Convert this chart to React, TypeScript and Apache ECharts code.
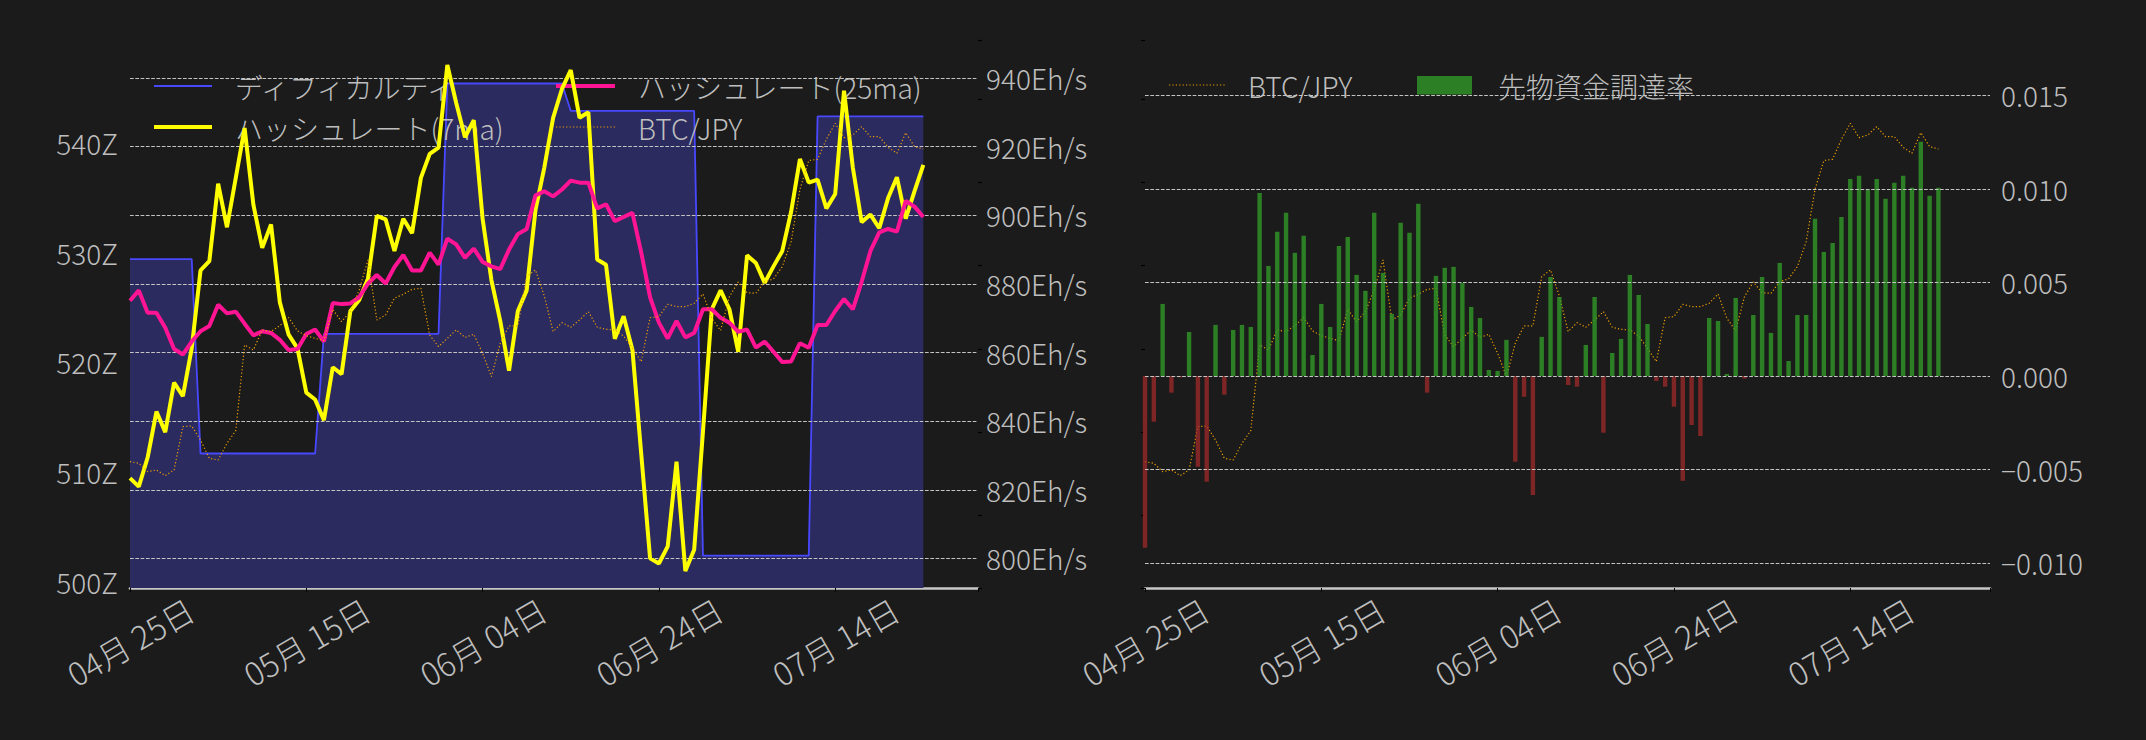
import React, { useEffect, useRef } from "react";
import * as echarts from "echarts";

// ---------- data ----------
const dates = [
  "2025-04-25", "2025-04-26", "2025-04-27", "2025-04-28", "2025-04-29", "2025-04-30",
  "2025-05-01", "2025-05-02", "2025-05-03", "2025-05-04", "2025-05-05", "2025-05-06", "2025-05-07",
  "2025-05-08", "2025-05-09", "2025-05-10", "2025-05-11", "2025-05-12", "2025-05-13", "2025-05-14",
  "2025-05-15", "2025-05-16", "2025-05-17", "2025-05-18", "2025-05-19", "2025-05-20", "2025-05-21",
  "2025-05-22", "2025-05-23", "2025-05-24", "2025-05-25", "2025-05-26", "2025-05-27", "2025-05-28",
  "2025-05-29", "2025-05-30", "2025-05-31",
  "2025-06-01", "2025-06-02", "2025-06-03", "2025-06-04", "2025-06-05", "2025-06-06", "2025-06-07",
  "2025-06-08", "2025-06-09", "2025-06-10", "2025-06-11", "2025-06-12", "2025-06-13", "2025-06-14",
  "2025-06-15", "2025-06-16", "2025-06-17", "2025-06-18", "2025-06-19", "2025-06-20", "2025-06-21",
  "2025-06-22", "2025-06-23", "2025-06-24", "2025-06-25", "2025-06-26", "2025-06-27", "2025-06-28",
  "2025-06-29", "2025-06-30",
  "2025-07-01", "2025-07-02", "2025-07-03", "2025-07-04", "2025-07-05", "2025-07-06", "2025-07-07",
  "2025-07-08", "2025-07-09", "2025-07-10", "2025-07-11", "2025-07-12", "2025-07-13", "2025-07-14",
  "2025-07-15", "2025-07-16", "2025-07-17", "2025-07-18", "2025-07-19", "2025-07-20", "2025-07-21",
  "2025-07-22", "2025-07-23", "2025-07-24",
];

// difficulty in Z (zetta hashes)
const difficultyZ = [
  529.4, 529.4, 529.4, 529.4, 529.4, 529.4, 529.4, 529.4,
  511.7, 511.7, 511.7, 511.7, 511.7, 511.7, 511.7, 511.7, 511.7, 511.7, 511.7, 511.7, 511.7, 511.7,
  522.6, 522.6, 522.6, 522.6, 522.6, 522.6, 522.6, 522.6, 522.6, 522.6, 522.6, 522.6, 522.6, 522.6,
  545.4, 545.4, 545.4, 545.4, 545.4, 545.4, 545.4, 545.4, 545.4, 545.4, 545.4, 545.4, 545.4, 545.4,
  542.9, 542.9, 542.9, 542.9, 542.9, 542.9, 542.9, 542.9, 542.9, 542.9, 542.9, 542.9, 542.9, 542.9, 542.9,
  502.4, 502.4, 502.4, 502.4, 502.4, 502.4, 502.4, 502.4, 502.4, 502.4, 502.4, 502.4, 502.4,
  542.4, 542.4, 542.4, 542.4, 542.4, 542.4, 542.4, 542.4, 542.4, 542.4, 542.4, 542.4, 542.4,
];

// hash rate, 7-day moving average (Eh/s)
const hashrate7ma = [
  823.4, 820.9, 829.4, 842.8, 836.8, 851.2, 847.3, 861.2, 883.9, 886.6,
  909.2, 896.5, 910.9, 925.4, 903.0, 890.5, 897.3, 874.6, 865.2, 861.2,
  848.3, 846.3, 840.3, 855.7, 853.7, 872.1, 875.3, 881.6, 899.8, 898.8,
  889.6, 899.0, 894.8, 910.9, 917.9, 919.7, 943.8, 932.8, 922.7, 927.7,
  899.0, 881.1, 869.2, 854.7, 872.1, 878.1, 901.5, 913.9, 928.4, 936.8,
  942.3, 928.4, 930.0, 887.1, 885.6, 864.0, 870.6, 860.7, 830.3, 800.0,
  798.5, 803.5, 828.2, 796.3, 802.5, 837.0, 872.6, 878.1, 872.6, 860.2,
  888.3, 886.1, 880.3, 885.1, 889.6, 901.0, 916.4, 909.5, 910.4, 902.0,
  906.2, 936.3, 913.9, 898.0, 900.2, 896.2, 905.0, 911.1, 899.0, 907.0,
  914.7,
];

// hash rate, 25-day moving average (Eh/s)
const hashrate25ma = [
  875.1, 878.1, 871.6, 871.6, 867.2, 861.0, 859.4, 863.2, 866.2, 867.7,
  873.9, 871.4, 871.9, 868.4, 865.0, 866.2, 865.7, 863.7, 860.7, 861.0,
  865.4, 866.7, 863.2, 874.4, 874.1, 874.3, 876.1, 880.1, 882.6, 880.1,
  884.9, 888.4, 883.9, 883.9, 889.1, 885.6, 893.2, 891.5, 887.6, 890.3,
  886.4, 885.1, 884.3, 890.0, 894.5, 896.0, 905.8, 907.0, 905.5, 907.5,
  910.1, 909.5, 909.5, 902.0, 903.2, 898.3, 899.5, 900.7, 889.1, 876.1,
  868.7, 864.1, 869.2, 864.4, 865.7, 872.6, 872.6, 870.1, 868.7, 866.0,
  866.7, 861.4, 863.2, 860.2, 857.2, 857.4, 862.7, 861.4, 868.0, 868.0,
  872.1, 875.6, 872.6, 880.6, 889.6, 895.0, 896.0, 895.2, 904.2, 902.5,
  899.5,
];

// BTC/JPY close (yen)
const btcJpy = [
  13645000, 13625000, 13525000, 13545000, 13477000, 13545000, 14066000, 14074000, 13905000, 13685000,
  13665000, 13865000, 14018000, 15047000, 14987000, 15228000, 15208000, 15280000, 15376000, 15216000,
  15159000, 15127000, 15099000, 15476000, 15328000, 15448000, 15708000, 16069000, 15348000, 15408000,
  15610000, 15656000, 15716000, 15728000, 15167000, 15027000, 15127000, 15228000, 15139000, 15175000,
  14947000, 14667000, 15067000, 15276000, 15276000, 15869000, 15949000, 15636000, 15208000, 15316000,
  15260000, 15348000, 15448000, 15260000, 15236000, 15228000, 15155000, 15007000, 14847000, 15376000,
  15388000, 15536000, 15508000, 15508000, 15548000, 15660000, 15368000, 15220000, 15628000, 15804000,
  15676000, 15668000, 15808000, 15841000, 15989000, 16289000, 16918000, 17263000, 17279000, 17519000,
  17712000, 17539000, 17571000, 17671000, 17551000, 17551000, 17423000, 17351000, 17599000, 17431000,
  17403000,
];

// futures funding rate (daily)
const fundingRate = [
  -0.00918, -0.00244, 0.00385, -0.00089, -0.00007, 0.00235, -0.00485, -0.00565, 0.00273, -0.00100,
  0.00246, 0.00273, 0.00262, 0.00977, 0.00588, 0.00770, 0.00872, 0.00658, 0.00749, 0.00112,
  0.00385, 0.00262, 0.00695, 0.00743, 0.00540, 0.00455, 0.00872, 0.00551, 0.00332, 0.00818,
  0.00765, 0.00920, -0.00089, 0.00535, 0.00578, 0.00583, 0.00497, 0.00369, 0.00310, 0.00032,
  0.00027, 0.00193, -0.00458, -0.00111, -0.00636, 0.00209, 0.00529, 0.00422, -0.00048, -0.00057,
  0.00166, 0.00422, -0.00303, 0.00123, 0.00198, 0.00540, 0.00433, 0.00278, -0.00027, -0.00057,
  -0.00164, -0.00560, -0.00262, -0.00321, 0.00310, 0.00294, 0.00011, 0.00417, -0.00014, 0.00326,
  0.00529, 0.00230, 0.00604, 0.00080, 0.00326, 0.00326, 0.00840, 0.00663, 0.00711, 0.00850,
  0.01053, 0.01070, 0.00995, 0.01053, 0.00947, 0.01032, 0.01070, 0.01005, 0.01251, 0.00963,
  0.01005,
];

// ---------- style ----------
const FONT = "'Noto Sans CJK JP', 'Noto Sans', sans-serif";
const BG = "#1b1b1b";
const TEXT = "#bebebe";
const GRID_C = "#c4c4c4";
const BLUE = "#4848ff";
const FILL = "#2b2b60";
const YELLOW = "#ffff00";
const PINK = "#ff1493";
const ORANGE = "#f0a000";
const GREEN = "rgba(50,150,40,0.82)";
const RED = "rgba(165,42,42,0.72)";
const FS = 28;
const FS_DATE = 32;
const FW = 300;
const DOT = [1.2, 2.2];

const isMult = (v: number, s: number) => Math.abs(v / s - Math.round(v / s)) < 1e-6;

const dateLabel = (v: number) => {
  if (!Number.isInteger(v) || !dates[v]) return "";
  const [, m, d] = dates[v].split("-");
  return `${m}月 ${d}日`;
};

const pts = (arr: number[]) => arr.map((v, i) => [i, v]);

function xAxis(gridIndex: number, max: number) {
  return {
    type: "value",
    gridIndex,
    min: 0,
    max,
    interval: 20,
    axisLine: { show: true, onZero: false, lineStyle: { color: "#c8c8c8", width: 2.7 } },
    axisTick: { show: true, length: 4, lineStyle: { color: "#000", width: 1 } },
    axisLabel: {
      rotate: 30,
      align: "center",
      verticalAlign: "middle",
      margin: 53,
      fontSize: FS_DATE,
      fontWeight: FW,
      fontFamily: FONT,
      color: TEXT,
      formatter: dateLabel,
    },
    splitLine: { show: false },
  };
}

const labelBase = { fontSize: FS, fontWeight: FW, color: TEXT, fontFamily: FONT };

function buildOption() {
  return {
    animation: false,
    backgroundColor: BG,
    textStyle: { fontFamily: FONT, fontWeight: FW },
    grid: [
      { left: 130, top: 40, width: 848, height: 548 },
      { left: 1145, top: 40, width: 845, height: 548 },
    ],
    xAxis: [xAxis(0, 96.2), xAxis(1, 95.85)],
    yAxis: [
      {
        // difficulty (left)
        type: "value",
        gridIndex: 0,
        position: "left",
        min: 499.45,
        max: 549.36,
        minInterval: 10,
        maxInterval: 10,
        axisLine: { show: false },
        axisTick: { show: false },
        splitLine: { show: false },
        axisLabel: {
          ...labelBase,
          margin: 12,
          formatter: (v: number) => (isMult(v, 10) ? `${Math.round(v)}Z` : ""),
        },
      },
      {
        // hash rate (right)
        type: "value",
        gridIndex: 0,
        position: "right",
        min: 791.37,
        max: 951.07,
        minInterval: 20,
        maxInterval: 20,
        z: 3,
        axisLine: { show: false },
        axisTick: { show: false },
        splitLine: {
          show: true,
          showMinLine: false,
          showMaxLine: false,
          lineStyle: { color: GRID_C, width: 1, type: [3.7, 1.6] },
        },
        axisLabel: {
          ...labelBase,
          margin: 8,
          formatter: (v: number) => (isMult(v, 20) ? `${Math.round(v)}Eh/s` : ""),
        },
      },
      {
        // BTC/JPY (left chart, hidden labels)
        type: "value",
        gridIndex: 0,
        position: "right",
        min: 12126200,
        max: 18712700,
        minInterval: 1000000,
        maxInterval: 1000000,
        axisLine: { show: false },
        axisTick: { show: true, length: 4, lineStyle: { color: "#000", width: 1.2 } },
        axisLabel: { show: false },
        splitLine: { show: false },
      },
      {
        // funding rate (right chart, right side)
        type: "value",
        gridIndex: 1,
        position: "right",
        min: -0.011325,
        max: 0.017949,
        minInterval: 0.005,
        maxInterval: 0.005,
        z: 3,
        axisLine: { show: false },
        axisTick: { show: false },
        splitLine: {
          show: true,
          showMinLine: false,
          showMaxLine: false,
          lineStyle: { color: GRID_C, width: 1, type: [3.7, 1.6] },
        },
        axisLabel: {
          ...labelBase,
          margin: 11,
          formatter: (v: number) => {
            if (!isMult(v, 0.005)) return "";
            const r = Math.round(v / 0.005) * 0.005;
            if (Math.abs(r) < 1e-9) return "0.000";
            return r < 0 ? "\u2212" + Math.abs(r).toFixed(3) : r.toFixed(3);
          },
        },
      },
      {
        // BTC/JPY (right chart, left side, hidden labels)
        type: "value",
        gridIndex: 1,
        position: "left",
        min: 12126200,
        max: 18712700,
        minInterval: 1000000,
        maxInterval: 1000000,
        axisLine: { show: false },
        axisTick: { show: true, length: 4, lineStyle: { color: "#000", width: 1.2 } },
        axisLabel: { show: false },
        splitLine: { show: false },
      },
    ],
    series: [
      {
        name: "ディフィカルティ",
        type: "line",
        xAxisIndex: 0,
        yAxisIndex: 0,
        data: pts(difficultyZ),
        showSymbol: false,
        symbol: "none",
        z: 1,
        lineStyle: { color: BLUE, width: 1.8 },
        areaStyle: { color: FILL, opacity: 1, origin: "start" },
      },
      {
        name: "ハッシュレート(7ma)",
        type: "line",
        xAxisIndex: 0,
        yAxisIndex: 1,
        data: pts(hashrate7ma),
        showSymbol: false,
        symbol: "none",
        z: 4,
        lineStyle: { color: YELLOW, width: 4 },
      },
      {
        name: "ハッシュレート(25ma)",
        type: "line",
        xAxisIndex: 0,
        yAxisIndex: 1,
        data: pts(hashrate25ma),
        showSymbol: false,
        symbol: "none",
        z: 4,
        lineStyle: { color: PINK, width: 4 },
      },
      {
        name: "BTC/JPY",
        type: "line",
        xAxisIndex: 0,
        yAxisIndex: 2,
        data: pts(btcJpy),
        showSymbol: false,
        symbol: "none",
        z: 5,
        lineStyle: { color: ORANGE, width: 1.2, type: DOT },
      },
      {
        name: "BTC/JPY ",
        type: "line",
        xAxisIndex: 1,
        yAxisIndex: 4,
        data: pts(btcJpy),
        showSymbol: false,
        symbol: "none",
        z: 1,
        lineStyle: { color: ORANGE, width: 1.2, type: DOT },
      },
      {
        name: "先物資金調達率",
        type: "bar",
        xAxisIndex: 1,
        yAxisIndex: 3,
        data: pts(fundingRate),
        barWidth: 4.4,
        z: 2,
        itemStyle: {
          color: (p: any) => (p.value[1] >= 0 ? GREEN : RED),
        },
      },
    ],
    graphic: [
      // left legend, column 1
      { type: "line", z: 2, shape: { x1: 154, y1: 86, x2: 212, y2: 86 }, style: { stroke: BLUE, lineWidth: 1.8 } },
      { type: "text", z: 2, x: 235, y: 87, style: { text: "ディフィカルティ", fill: TEXT, fontSize: FS, fontWeight: FW, fontFamily: FONT, align: "left", verticalAlign: "middle" } },
      { type: "line", z: 2, shape: { x1: 154, y1: 127, x2: 212, y2: 127 }, style: { stroke: YELLOW, lineWidth: 4 } },
      { type: "text", z: 2, x: 235, y: 128, style: { text: "ハッシュレート(7ma)", fill: TEXT, fontSize: FS, fontWeight: FW, fontFamily: FONT, align: "left", verticalAlign: "middle" } },
      // left legend, column 2
      { type: "line", z: 2, shape: { x1: 556, y1: 86, x2: 615, y2: 86 }, style: { stroke: PINK, lineWidth: 4 } },
      { type: "text", z: 2, x: 638, y: 87, style: { text: "ハッシュレート(25ma)", fill: TEXT, fontSize: FS, fontWeight: FW, fontFamily: FONT, align: "left", verticalAlign: "middle" } },
      { type: "line", z: 2, shape: { x1: 556, y1: 127, x2: 615, y2: 127 }, style: { stroke: ORANGE, lineWidth: 1.2, lineDash: DOT } },
      { type: "text", z: 2, x: 638, y: 128, style: { text: "BTC/JPY", fill: TEXT, fontSize: FS, fontWeight: FW, fontFamily: FONT, align: "left", verticalAlign: "middle" } },
      // right legend
      { type: "line", z: 2, shape: { x1: 1169, y1: 85, x2: 1225, y2: 85 }, style: { stroke: ORANGE, lineWidth: 1.2, lineDash: DOT } },
      { type: "text", z: 2, x: 1248, y: 86, style: { text: "BTC/JPY", fill: TEXT, fontSize: FS, fontWeight: FW, fontFamily: FONT, align: "left", verticalAlign: "middle" } },
      { type: "rect", z: 2, shape: { x: 1417, y: 76, width: 55, height: 18.5 }, style: { fill: GREEN } },
      { type: "text", z: 2, x: 1498, y: 86, style: { text: "先物資金調達率", fill: TEXT, fontSize: FS, fontWeight: FW, fontFamily: FONT, align: "left", verticalAlign: "middle" } },
    ],
  };
}

export default function App() {
  const ref = useRef<HTMLDivElement>(null);
  useEffect(() => {
    if (!ref.current) return;
    const chart = echarts.init(ref.current, null, { renderer: "svg" });
    chart.setOption(buildOption() as any);
    return () => chart.dispose();
  }, []);
  return (
    <div
      ref={ref}
      style={{ position: "fixed", left: 0, top: 0, width: 2146, height: 740 }}
    />
  );
}
